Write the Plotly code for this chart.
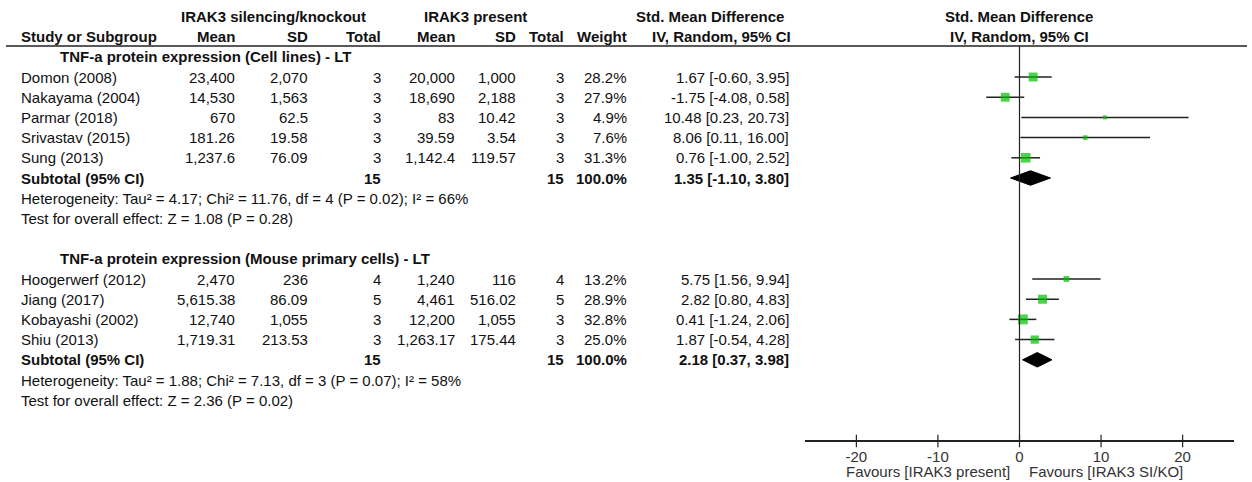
import plotly.graph_objects as go

W, H = 1252, 482
FONT = "Liberation Sans, Arial, sans-serif"
FS = 15

# ---------------- data ----------------
# Subgroup 1: Cell lines
cell_title = "TNF-a protein expression (Cell lines) - LT"
cell_study = ["Domon (2008)", "Nakayama (2004)", "Parmar (2018)", "Srivastav (2015)", "Sung (2013)"]
cell_ko_mean = ["23,400", "14,530", "670", "181.26", "1,237.6"]
cell_ko_sd = ["2,070", "1,563", "62.5", "19.58", "76.09"]
cell_ko_n = [3, 3, 3, 3, 3]
cell_pr_mean = ["20,000", "18,690", "83", "39.59", "1,142.4"]
cell_pr_sd = ["1,000", "2,188", "10.42", "3.54", "119.57"]
cell_pr_n = [3, 3, 3, 3, 3]
cell_weight = [28.2, 27.9, 4.9, 7.6, 31.3]
cell_smd = [1.67, -1.75, 10.48, 8.06, 0.76]
cell_lo = [-0.60, -4.08, 0.23, 0.11, -1.00]
cell_hi = [3.95, 0.58, 20.73, 16.00, 2.52]
cell_sub = [1.35, -1.10, 3.80]
cell_sub_n = [15, 15]
cell_het = "Heterogeneity: Tau² = 4.17; Chi² = 11.76, df = 4 (P = 0.02); I² = 66%"
cell_test = "Test for overall effect: Z = 1.08 (P = 0.28)"

# Subgroup 2: Mouse primary cells
mouse_title = "TNF-a protein expression (Mouse primary cells) - LT"
mouse_study = ["Hoogerwerf (2012)", "Jiang (2017)", "Kobayashi (2002)", "Shiu (2013)"]
mouse_ko_mean = ["2,470", "5,615.38", "12,740", "1,719.31"]
mouse_ko_sd = ["236", "86.09", "1,055", "213.53"]
mouse_ko_n = [4, 5, 3, 3]
mouse_pr_mean = ["1,240", "4,461", "12,200", "1,263.17"]
mouse_pr_sd = ["116", "516.02", "1,055", "175.44"]
mouse_pr_n = [4, 5, 3, 3]
mouse_weight = [13.2, 28.9, 32.8, 25.0]
mouse_smd = [5.75, 2.82, 0.41, 1.87]
mouse_lo = [1.56, 0.80, -1.24, -0.54]
mouse_hi = [9.94, 4.83, 2.06, 4.28]
mouse_sub = [2.18, 0.37, 3.98]
mouse_sub_n = [15, 15]
mouse_het = "Heterogeneity: Tau² = 1.88; Chi² = 7.13, df = 3 (P = 0.07); I² = 58%"
mouse_test = "Test for overall effect: Z = 2.36 (P = 0.02)"

tick_vals = [-20, -10, 0, 10, 20]
tick_text = ["-20", "-10", "0", "10", "20"]
favours_left = "Favours [IRAK3 present]"
favours_right = "Favours [IRAK3 SI/KO]"

# ---------------- layout geometry ----------------
ROW0_PX, ROW_H = 77.0, 20.2
def px2row(py):
    return (py - ROW0_PX) / ROW_H
Y_TOP = px2row(0)
Y_BOT = px2row(H)
AXIS_ROW = px2row(441)
RULE_ROW = px2row(46)

fig = go.Figure()
ann = []

def txt(xpx, row, s, anchor="left", bold=False, color="#111", xref="paper"):
    x = xpx / W if xref == "paper" else xpx
    ann.append(dict(x=x, y=row, xref=xref, yref="y", text=("<b>%s</b>" % s) if bold else s,
                    showarrow=False, xanchor=anchor, yanchor="middle",
                    font=dict(family=FONT, size=FS, color=color)))

# column positions (px)
X_NAME, X_SUB = 19, 58
X_KOM, X_KOSD, X_KON = 237, 310, 383
X_PRM, X_PRSD, X_PRN, X_W, X_CI = 457, 518, 566, 629, 791

# headers
txt(273, -3, "IRAK3 silencing/knockout", "center", True)
txt(475, -3, "IRAK3 present", "center", True)
txt(710, -3, "Std. Mean Difference", "center", True)
txt(1019, -3, "Std. Mean Difference", "center", True)
txt(X_NAME, -2, "Study or Subgroup", "left", True)
txt(X_KOM, -2, "Mean", "right", True)
txt(X_KOSD, -2, "SD", "right", True)
txt(X_KON, -2, "Total", "right", True)
txt(X_PRM, -2, "Mean", "right", True)
txt(X_PRSD, -2, "SD", "right", True)
txt(X_PRN, -2, "Total", "right", True)
txt(X_W, -2, "Weight", "right", True)
txt(721, -2, "IV, Random, 95% CI", "center", True)
txt(1019, -2, "IV, Random, 95% CI", "center", True)

groups = [
    (-1, cell_title, cell_study, cell_ko_mean, cell_ko_sd, cell_ko_n, cell_pr_mean, cell_pr_sd, cell_pr_n,
     cell_weight, cell_smd, cell_lo, cell_hi, cell_sub, cell_sub_n, cell_het, cell_test),
    (9, mouse_title, mouse_study, mouse_ko_mean, mouse_ko_sd, mouse_ko_n, mouse_pr_mean, mouse_pr_sd, mouse_pr_n,
     mouse_weight, mouse_smd, mouse_lo, mouse_hi, mouse_sub, mouse_sub_n, mouse_het, mouse_test),
]

ci_x, ci_y, sq_x, sq_y, sq_s = [], [], [], [], []
for (r0, title, st, km, ksd, kn, pm, psd, pn, wt, smd, lo, hi, sub, subn, het, test) in groups:
    txt(X_SUB, r0, title, "left", True)
    for i in range(len(st)):
        r = r0 + 1 + i
        txt(X_NAME, r, st[i])
        txt(X_KOM, r, km[i], "right")
        txt(X_KOSD, r, ksd[i], "right")
        txt(X_KON, r, str(kn[i]), "right")
        txt(X_PRM, r, pm[i], "right")
        txt(X_PRSD, r, psd[i], "right")
        txt(X_PRN, r, str(pn[i]), "right")
        txt(X_W, r, "%.1f%%" % wt[i], "right")
        txt(X_CI, r, "%.2f [%.2f, %.2f]" % (smd[i], lo[i], hi[i]), "right")
        ci_x += [lo[i], hi[i], None]
        ci_y += [r, r, None]
        sq_x.append(smd[i]); sq_y.append(r); sq_s.append(3 + 0.21 * wt[i])
    rs = r0 + 1 + len(st)
    txt(X_NAME, rs, "Subtotal (95% CI)", "left", True)
    txt(X_KON, rs, str(subn[0]), "right", True)
    txt(X_PRN, rs, str(subn[1]), "right", True)
    txt(X_W, rs, "100.0%", "right", True)
    txt(X_CI, rs, "%.2f [%.2f, %.2f]" % (sub[0], sub[1], sub[2]), "right", True)
    txt(X_NAME, rs + 1, het)
    txt(X_NAME, rs + 2, test)
    dh = 0.36
    fig.add_trace(go.Scatter(x=[sub[1], sub[0], sub[2], sub[0], sub[1]],
                             y=[rs, rs - dh, rs, rs + dh, rs],
                             mode="lines", fill="toself", fillcolor="#000000",
                             line=dict(color="#000000", width=1), hoverinfo="skip"))

fig.add_trace(go.Scatter(x=ci_x, y=ci_y, mode="lines", line=dict(color="#222", width=1.5),
                         hoverinfo="skip"))
fig.add_trace(go.Scatter(x=sq_x, y=sq_y, mode="markers",
                         marker=dict(symbol="square", size=sq_s, color="#00BF00", line=dict(width=0))))
# ticks crossing the axis
fig.add_trace(go.Scatter(x=tick_vals, y=[AXIS_ROW] * len(tick_vals), mode="markers",
                         marker=dict(symbol="line-ns", size=9, line=dict(color="#222", width=1.2)),
                         hoverinfo="skip"))

# favours labels
txt(-0.86, px2row(471), favours_left, "right", color="#333", xref="x")
txt(0.98, px2row(471), favours_right, "left", color="#333", xref="x")

shapes = [
    dict(type="line", xref="paper", yref="y", x0=6 / W, x1=1247 / W, y0=RULE_ROW, y1=RULE_ROW,
         line=dict(color="#222", width=1.5)),
    dict(type="line", xref="x", yref="y", x0=0, x1=0, y0=RULE_ROW, y1=AXIS_ROW,
         line=dict(color="#222", width=1.2)),
]

fig.update_layout(
    width=W, height=H, margin=dict(l=0, r=0, t=0, b=0),
    paper_bgcolor="white", plot_bgcolor="rgba(0,0,0,0)", showlegend=False,
    xaxis=dict(domain=[805 / W, 1234 / W], range=[-26.3, 26.3], anchor="free", position=1 - 441 / H,
               showline=True, linecolor="#222", linewidth=1.5, ticks="outside", ticklen=2,
               tickcolor="rgba(0,0,0,0)",
               tickvals=tick_vals, ticktext=tick_text, showgrid=False, zeroline=False,
               tickfont=dict(family=FONT, size=FS, color="#333"), fixedrange=True),
    yaxis=dict(domain=[0, 1], range=[Y_BOT, Y_TOP], visible=False, fixedrange=True),
    annotations=ann, shapes=shapes,
)

fig.write_html("out.html", config={"displayModeBar": False},
               post_script="document.body.style.margin='0';document.body.style.overflow='hidden';")
